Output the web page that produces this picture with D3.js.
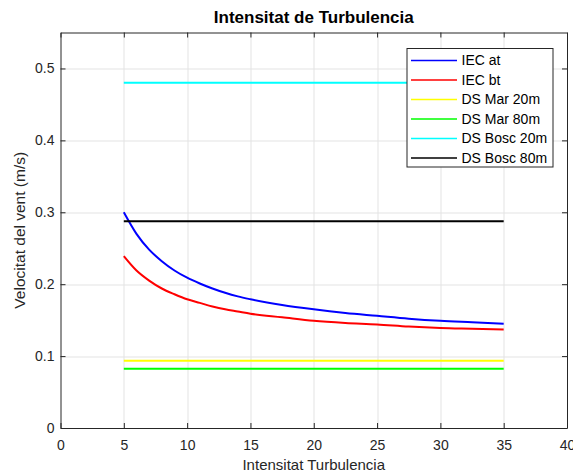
<!DOCTYPE html>
<html>
<head>
<meta charset="utf-8">
<script src="https://cdn.jsdelivr.net/npm/d3@7"></script>
<style>
  body { margin: 0; background: #fff; }
  #wrapper text { font-family: "Liberation Sans", Arial, sans-serif; fill: #262626; }
  .grid line { stroke: #e3e3e3; stroke-width: 1; }
  .axis path, .axis line { stroke: #262626; }
</style>
</head>
<body>
<div id="wrapper"></div>
<script>
// intensitat de turbulencia (%)
const turbulence = [5, 6, 7, 8, 9, 10, 11, 12, 13, 14, 15, 17.5, 20, 22.5, 25, 27.5, 30, 32.5, 35]
const iecAt = [0.300, 0.270, 0.248, 0.232, 0.219, 0.209, 0.201, 0.194, 0.188, 0.183, 0.179, 0.171, 0.165, 0.160, 0.156, 0.152, 0.149, 0.147, 0.145]
const iecBt = [0.239, 0.219, 0.205, 0.194, 0.186, 0.179, 0.174, 0.169, 0.165, 0.162, 0.159, 0.154, 0.149, 0.146, 0.144, 0.141, 0.139, 0.138, 0.137]

// constant series, drawn from first to last turbulence value
const flatRange = [5, 35]
const dsMar20 = 0.0935
const dsMar80 = 0.0824
const dsBosc20 = 0.480
const dsBosc80 = 0.2875

const seriesNames = ["IEC at", "IEC bt", "DS Mar 20m", "DS Mar 80m", "DS Bosc 20m", "DS Bosc 80m"]
const seriesColors = ["#0000ff", "#ff0000", "#ffff00", "#00ff00", "#00ffff", "#000000"]

const xTicks = [0, 5, 10, 15, 20, 25, 30, 35, 40]
const yTicks = [0, 0.1, 0.2, 0.3, 0.4, 0.5]

function drawChart() {

  // 1. Build series

  const series = [
    turbulence.map((x, i) => [x, iecAt[i]]),
    turbulence.map((x, i) => [x, iecBt[i]]),
    flatRange.map(x => [x, dsMar20]),
    flatRange.map(x => [x, dsMar80]),
    flatRange.map(x => [x, dsBosc20]),
    flatRange.map(x => [x, dsBosc80]),
  ]

  // 2. Dimensions

  let dimensions = {
    width: 573,
    height: 474,
    margin: { top: 32.5, right: 6, bottom: 46, left: 60.5 },
  }
  dimensions.boundedWidth = dimensions.width - dimensions.margin.left - dimensions.margin.right
  dimensions.boundedHeight = dimensions.height - dimensions.margin.top - dimensions.margin.bottom

  // 3. Canvas

  const wrapper = d3.select("#wrapper")
    .append("svg")
      .attr("width", dimensions.width)
      .attr("height", dimensions.height)

  const bounds = wrapper.append("g")
      .attr("transform", `translate(${dimensions.margin.left}, ${dimensions.margin.top})`)

  // 4. Scales

  const xScale = d3.scaleLinear()
    .domain([0, 40])
    .range([0, dimensions.boundedWidth])

  const yScale = d3.scaleLinear()
    .domain([0, 0.55])
    .range([dimensions.boundedHeight, 0])

  // 5. Grid

  const grid = bounds.append("g").attr("class", "grid")
  grid.selectAll(".gx")
    .data(xTicks.slice(1, -1))
    .join("line")
      .attr("x1", d => Math.round(xScale(d)) + 0.5)
      .attr("x2", d => Math.round(xScale(d)) + 0.5)
      .attr("y1", 0)
      .attr("y2", dimensions.boundedHeight)
  grid.selectAll(".gy")
    .data(yTicks.slice(1))
    .join("line")
      .attr("class", "gy")
      .attr("x1", 0)
      .attr("x2", dimensions.boundedWidth)
      .attr("y1", d => Math.round(yScale(d)) + 0.5)
      .attr("y2", d => Math.round(yScale(d)) + 0.5)

  // 6. Data

  const lineGenerator = d3.line()
    .x(d => xScale(d[0]))
    .y(d => yScale(d[1]))
    .curve(d3.curveMonotoneX)

  bounds.selectAll(".series")
    .data(series)
    .join("path")
      .attr("class", "series")
      .attr("d", lineGenerator)
      .attr("fill", "none")
      .attr("stroke", (d, i) => seriesColors[i])
      .attr("stroke-width", 2)

  // 7. Axes (ticks inside, box on)

  const xAxis = bounds.append("g")
      .attr("class", "axis")
      .attr("transform", `translate(0, ${dimensions.boundedHeight})`)
      .call(d3.axisBottom(xScale).tickValues(xTicks).tickSize(-5).tickPadding(12).tickSizeOuter(0))
  xAxis.selectAll("text").style("font-size", "14px")

  bounds.append("g")
      .attr("class", "axis")
      .call(d3.axisTop(xScale).tickValues(xTicks).tickSize(-5).tickFormat("").tickSizeOuter(0))

  const yAxis = bounds.append("g")
      .attr("class", "axis")
      .call(d3.axisLeft(yScale).tickValues(yTicks).tickSize(-5).tickPadding(6).tickSizeOuter(0)
        .tickFormat(d => d === 0 ? "0" : d3.format(".1f")(d)))
  yAxis.selectAll("text").style("font-size", "14px")

  bounds.append("g")
      .attr("class", "axis")
      .attr("transform", `translate(${dimensions.boundedWidth}, 0)`)
      .call(d3.axisRight(yScale).tickValues(yTicks).tickSize(-5).tickFormat("").tickSizeOuter(0))

  bounds.selectAll(".axis").attr("font-family", null)

  // 8. Labels

  wrapper.append("text")
      .attr("x", dimensions.margin.left + dimensions.boundedWidth / 2)
      .attr("y", 23)
      .attr("text-anchor", "middle")
      .style("font-size", "17px")
      .style("font-weight", "bold")
      .style("fill", "#000")
      .text("Intensitat de Turbulencia")

  wrapper.append("text")
      .attr("x", dimensions.margin.left + dimensions.boundedWidth / 2)
      .attr("y", 470)
      .attr("text-anchor", "middle")
      .style("font-size", "15px")
      .text("Intensitat Turbulencia")

  wrapper.append("text")
      .attr("transform", `translate(25, ${dimensions.margin.top + dimensions.boundedHeight / 2}) rotate(-90)`)
      .attr("text-anchor", "middle")
      .style("font-size", "15.5px")
      .text("Velocitat del vent (m/s)")

  // 9. Legend

  const legend = wrapper.append("g")
      .attr("transform", "translate(407, 48.5)")

  legend.append("rect")
      .attr("width", 146)
      .attr("height", 118.5)
      .attr("fill", "#fff")
      .attr("stroke", "#262626")
      .attr("stroke-width", 1)

  const legendItems = legend.selectAll(".legend-item")
    .data(seriesNames)
    .join("g")
      .attr("class", "legend-item")
      .attr("transform", (d, i) => `translate(0, ${12 + i * 19.5})`)

  legendItems.append("line")
      .attr("x1", 4)
      .attr("x2", 50)
      .attr("stroke", (d, i) => seriesColors[i])
      .attr("stroke-width", 1.6)

  legendItems.append("text")
      .attr("x", 54.5)
      .attr("dy", "0.35em")
      .style("font-size", "14px")
      .style("fill", "#000")
      .text(d => d)
}
drawChart()
</script>
</body>
</html>
